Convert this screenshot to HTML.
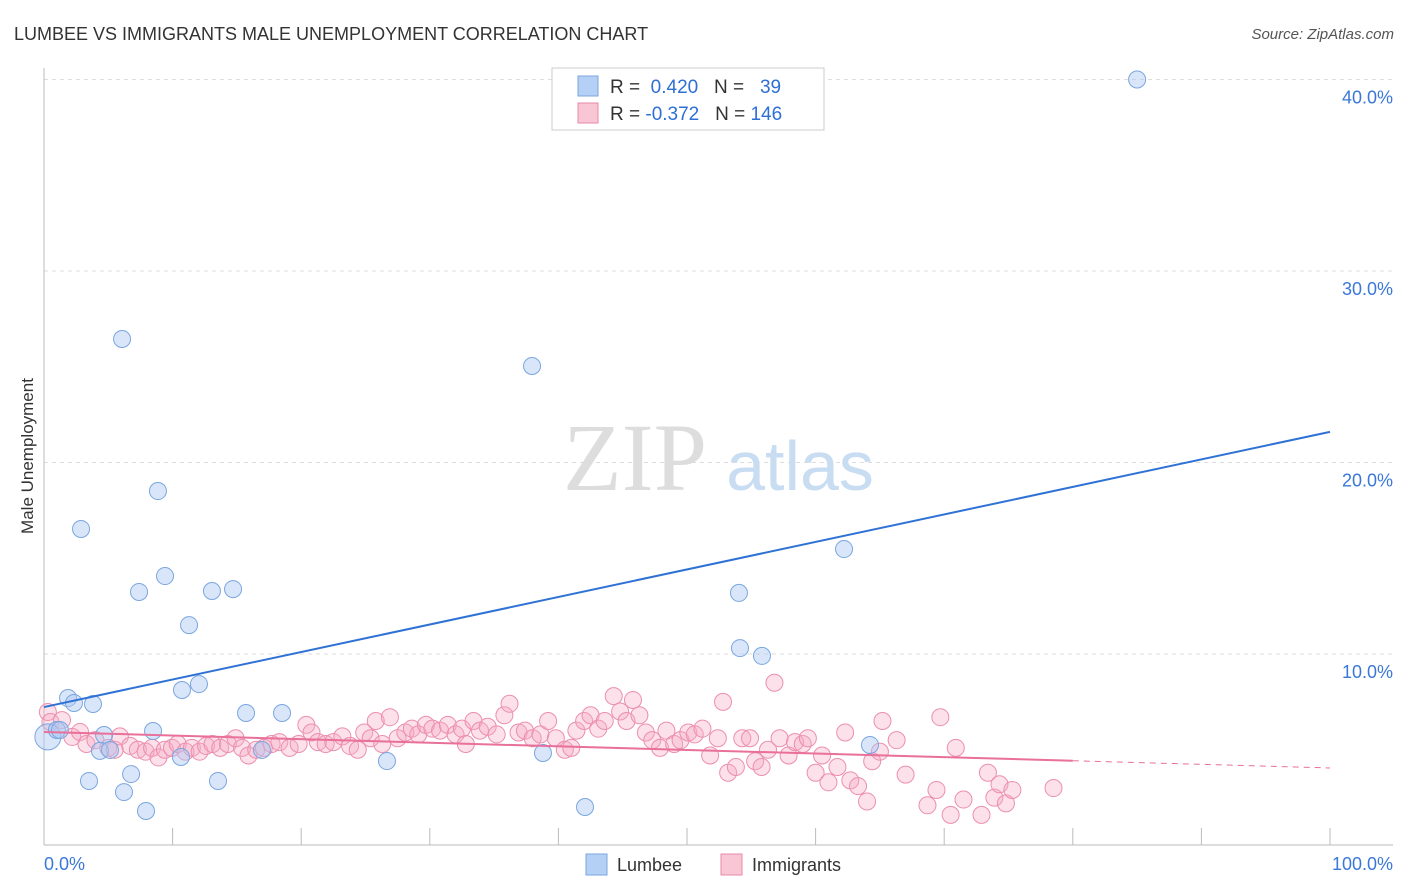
<!DOCTYPE html>
<html><head><meta charset="utf-8"><style>
body{margin:0;background:#fff;font-family:"Liberation Sans",sans-serif;}
</style></head><body>
<svg id="chart" width="1406" height="892" xmlns="http://www.w3.org/2000/svg" style="display:block">
<text x="14" y="40" font-size="18" fill="#333">LUMBEE VS IMMIGRANTS MALE UNEMPLOYMENT CORRELATION CHART</text>
<text x="1394" y="39" font-size="15" fill="#555" text-anchor="end" font-style="italic">Source: ZipAtlas.com</text>
<text transform="translate(33,456) rotate(-90)" font-size="17" fill="#333" text-anchor="middle">Male Unemployment</text>
<g id="grid"></g>
<g><text x="635" y="490" font-size="96" fill="#ddd" font-family="Liberation Serif,serif" text-anchor="middle">ZIP</text><text x="800" y="490" font-size="70" fill="#c8dcf2" text-anchor="middle">atlas</text></g>
<g id="pts"></g>
<g id="lines"></g>
<g>
<rect x="552" y="68" width="272" height="62" fill="#fff" stroke="#ccc"/>
<rect x="578" y="76" width="20" height="20" fill="#b5d0f5" stroke="#7aa6e0"/>
<text x="610" y="93" font-size="19" fill="#333">R = <tspan fill="#2e6fd6">&#160;0.420</tspan>&#160;&#160;&#160;N = <tspan fill="#2e6fd6">&#160;&#160;39</tspan></text>
<rect x="578" y="103" width="20" height="20" fill="#f9c6d6" stroke="#e889a8"/>
<text x="610" y="120" font-size="19" fill="#333">R = <tspan fill="#2e6fd6">-0.372</tspan>&#160;&#160;&#160;N = <tspan fill="#2e6fd6">146</tspan></text>
</g>
<g>
<rect x="586" y="854" width="21" height="21" fill="#b5d0f5" stroke="#7aa6e0"/>
<text x="617" y="871" font-size="18" fill="#333">Lumbee</text>
<rect x="721" y="854" width="21" height="21" fill="#f9c6d6" stroke="#e889a8"/>
<text x="752" y="871" font-size="18" fill="#333">Immigrants</text>
</g>
</svg>
<script>
const yTicks=[10,20,30,40];
const yTickLabels=["10.0%","20.0%","30.0%","40.0%"];
const xTickCount=10;
const xLabels=["0.0%","100.0%"];
const lumbeeX=[0.3,1.0,6.07,37.95,8.86,2.88,9.41,7.39,13.06,14.7,11.28,54.04,62.21,54.12,55.83,1.87,2.33,3.81,10.73,12.05,15.71,18.51,8.48,4.67,4.35,5.13,10.65,26.67,38.8,64.23,3.5,6.77,6.22,13.53,7.93,42.07,85.0,1.24,16.95];
const lumbeeY=[5.67,6.03,26.45,25.04,18.51,16.53,14.07,13.24,13.29,13.39,11.51,13.19,15.48,10.31,9.9,7.7,7.44,7.39,8.12,8.43,6.92,6.92,5.98,5.77,4.94,4.99,4.62,4.41,4.83,5.25,3.37,3.73,2.79,3.37,1.8,2.01,40.0,6.03,4.99];
const immX=[0.3,0.5,1.4,2.2,2.8,3.3,4.0,5.0,5.5,5.9,6.7,7.3,7.9,8.4,8.9,9.4,9.95,10.4,11.0,11.5,12.1,12.6,13.1,13.7,14.3,14.9,15.4,15.9,16.5,17.1,17.7,18.3,19.1,19.8,20.4,20.8,21.3,21.9,22.5,23.2,23.8,24.4,24.9,25.4,25.8,26.3,26.9,27.5,28.1,28.6,29.1,29.7,30.2,30.8,31.4,32.0,32.5,32.8,33.4,33.9,34.5,35.2,35.8,36.2,36.9,37.4,38.0,38.6,39.2,39.8,40.5,41.0,41.4,42.0,42.5,43.1,43.6,44.3,44.8,45.3,45.8,46.3,46.8,47.3,47.9,48.4,49.0,49.5,50.1,50.6,51.2,51.8,52.4,52.8,53.2,53.8,54.3,54.9,55.3,55.8,56.3,56.8,57.2,57.9,58.4,59.0,59.4,60.0,60.5,61.0,61.7,62.3,62.7,63.3,64.0,64.4,65.0,65.2,66.3,67.0,68.7,69.4,69.7,70.5,70.9,71.5,72.9,73.4,73.9,74.3,74.8,75.3,78.5];
const immY=[6.97,6.45,6.55,5.67,5.93,5.3,5.5,5.1,5.0,5.7,5.2,5.0,4.9,5.1,4.6,5.0,5.1,5.3,4.9,5.1,4.9,5.2,5.3,5.1,5.3,5.6,5.1,4.7,5.0,5.1,5.3,5.4,5.1,5.3,6.3,5.9,5.4,5.3,5.4,5.7,5.2,5.0,5.9,5.6,6.5,5.3,6.7,5.6,5.9,6.1,5.8,6.3,6.1,6.0,6.3,5.8,6.1,5.3,6.5,6.0,6.2,5.8,6.8,7.4,5.9,6.0,5.6,5.8,6.5,5.6,5.0,5.1,6.0,6.5,6.8,6.1,6.5,7.8,7.0,6.5,7.6,6.8,5.9,5.5,5.1,6.0,5.3,5.5,5.9,5.8,6.1,4.7,5.6,7.5,3.8,4.1,5.6,5.6,4.4,4.1,5.0,8.5,5.6,4.7,5.4,5.3,5.6,3.8,4.7,3.3,4.1,5.9,3.4,3.1,2.3,4.4,4.9,6.5,5.5,3.7,2.1,2.9,6.7,1.6,5.1,2.4,1.6,3.8,2.5,3.2,2.2,2.9,3.0];
const lumbeeTrend=[7.23,21.6];
const immTrend=[5.93,4.05];
const immSolidEnd=80;
const X0=44,X1=1330,Y0=845.5,YPER=19.15;
const sx=v=>X0+(X1-X0)*v/100;
const sy=v=>Y0-YPER*v;
const NS="http://www.w3.org/2000/svg";
function mk(t,a,p){const e=document.createElementNS(NS,t);for(const k in a)e.setAttribute(k,a[k]);p.appendChild(e);return e;}
const grid=document.getElementById('grid');
yTicks.forEach((t,i)=>{
  const l=mk('line',{x1:44,x2:1393,y1:sy(t),y2:sy(t),stroke:'#ddd','stroke-dasharray':'4,4'},grid);
  
  
  const tx=mk('text',{x:1393,y:sy(t)+24,'font-size':18,fill:'#3a78d8','text-anchor':'end'},grid);
  tx.textContent=yTickLabels[i];
  
  
});
const ax=mk('line',{x1:44,x2:44,y1:68,y2:845,stroke:'#bbb'},grid);


const bx=mk('line',{x1:44,x2:1393,y1:845,y2:845,stroke:'#bbb'},grid);


for(let i=0;i<=xTickCount;i++){
  const t=mk('line',{x1:sx(i*100/xTickCount),x2:sx(i*100/xTickCount),y1:828,y2:845,stroke:'#bbb'},grid);
  
  
}
[[44,'start',0],[1393,'end',1]].forEach(([x,a,i])=>{
  const t=mk('text',{x:x,y:870,'font-size':18,fill:'#3a78d8','text-anchor':a},grid);
  t.textContent=xLabels[i];
  
  
});
const pts=document.getElementById('pts');
immX.forEach((x,i)=>{
  const c=mk('circle',{cx:sx(x),cy:sy(immY[i]),r:8.5,fill:'rgba(246,170,196,0.35)',stroke:'#ec8fae','stroke-width':1},pts);
  
  
});
lumbeeX.forEach((x,i)=>{
  const c=mk('circle',{cx:sx(x),cy:sy(lumbeeY[i]),r:i==0?13:8.5,fill:'rgba(170,200,242,0.45)',stroke:'#7aa6e0','stroke-width':1},pts);
  
  
});
const lines=document.getElementById('lines');
const bl=mk('line',{x1:sx(0),y1:sy(lumbeeTrend[0]),x2:sx(100),y2:sy(lumbeeTrend[1]),stroke:'#2f72d6','stroke-width':2},lines);


const iy=x=>immTrend[0]+(immTrend[1]-immTrend[0])*x/100;
const pl=mk('line',{x1:sx(0),y1:sy(iy(0)),x2:sx(immSolidEnd),y2:sy(iy(immSolidEnd)),stroke:'#e8709a','stroke-width':2},lines);


const pd=mk('line',{x1:sx(immSolidEnd),y1:sy(iy(immSolidEnd)),x2:sx(100),y2:sy(iy(100)),stroke:'#e8709a','stroke-width':1,'stroke-dasharray':'6,5'},lines);


</script>
</body></html>
